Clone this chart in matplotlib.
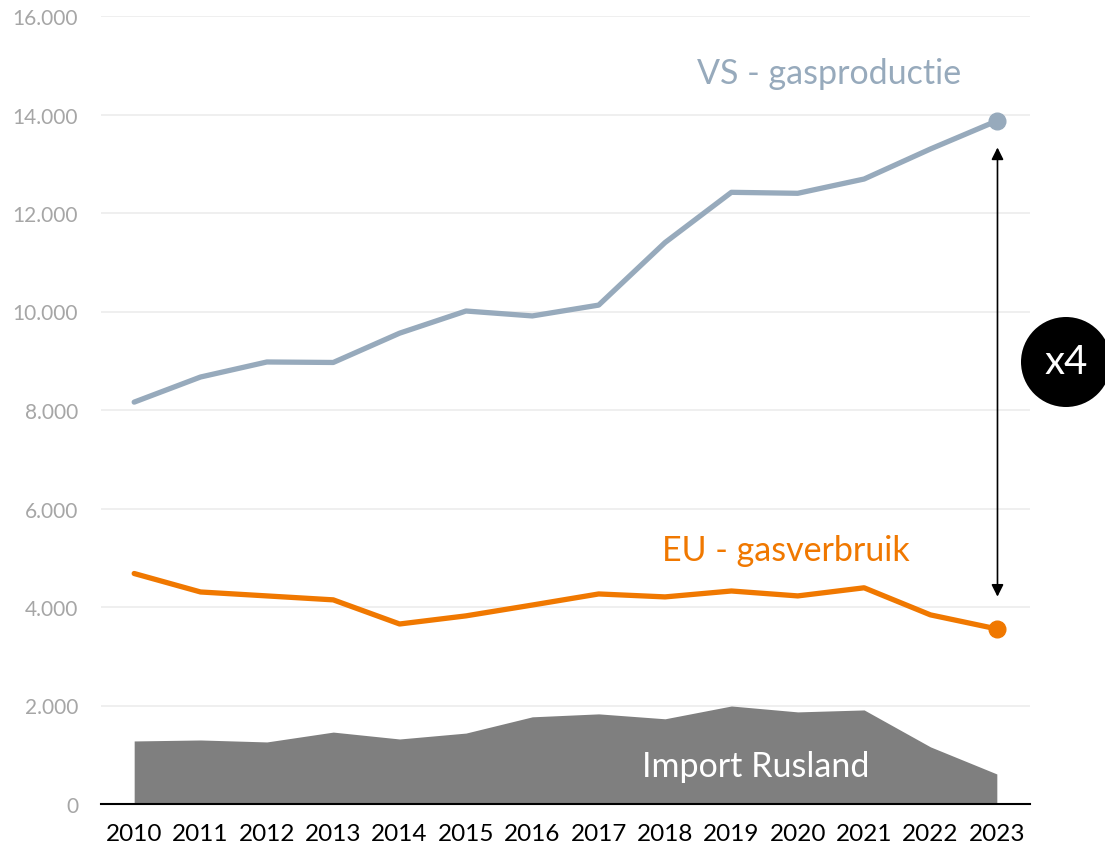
import matplotlib
matplotlib.use("Agg")
import matplotlib.pyplot as plt
from matplotlib.patches import Circle

plt.rcParams['font.family'] = ['Lato', 'DejaVu Sans']

years = [2010, 2011, 2012, 2013, 2014, 2015, 2016, 2017, 2018, 2019, 2020, 2021, 2022, 2023]
vs_production = [8160, 8670, 8975, 8965, 9560, 10010, 9910, 10130, 11400, 12420, 12400, 12690, 13300, 13870]
eu_consumption = [4680, 4305, 4225, 4145, 3655, 3820, 4040, 4265, 4205, 4325, 4225, 4390, 3840, 3555]
import_russia = [1280, 1300, 1260, 1460, 1320, 1440, 1770, 1830, 1730, 1990, 1870, 1910, 1160, 610]
yticks = [0, 2000, 4000, 6000, 8000, 10000, 12000, 14000, 16000]
ytick_labels = ['0', '2.000', '4.000', '6.000', '8.000', '10.000', '12.000', '14.000', '16.000']

VS_COLOR = '#97aabc'
EU_COLOR = '#f07800'
AREA_COLOR = '#7f7f7f'

fig = plt.figure(figsize=(11.05, 8.53), dpi=100)
ax = fig.add_axes([101/1105, 48/853, 929/1105, 788/853])

ax.fill_between(years, import_russia, 0, color=AREA_COLOR, linewidth=0, zorder=2)
ax.plot(years, vs_production, color=VS_COLOR, lw=3.8, solid_joinstyle='round',
        solid_capstyle='round', zorder=3)
ax.plot(years, eu_consumption, color=EU_COLOR, lw=3.8, solid_joinstyle='round',
        solid_capstyle='round', zorder=3)
ax.plot([years[-1]], [vs_production[-1]], 'o', color=VS_COLOR, ms=12, zorder=4)
ax.plot([years[-1]], [eu_consumption[-1]], 'o', color=EU_COLOR, ms=12, zorder=4)

ax.set_xlim(2009.5, 2023.5)
ax.set_ylim(0, 16000)
ax.set_yticks(yticks)
ax.set_yticklabels(ytick_labels)
ax.set_xticks(years)
ax.set_xticklabels([str(y) for y in years])
ax.grid(axis='y', color='#ececec', lw=1.2, zorder=0)
ax.set_axisbelow(True)
for s in ['top', 'right', 'left']:
    ax.spines[s].set_visible(False)
ax.spines['bottom'].set_color('black')
ax.spines['bottom'].set_linewidth(1.5)
ax.spines['bottom'].set_zorder(5)
ax.tick_params(axis='y', length=0, labelsize=15, labelcolor='#a6a6a6', pad=16.5)
ax.tick_params(axis='x', length=0, labelsize=17.5, labelcolor='black', pad=14)

ax.text(2020.47, 14850, 'VS - gasproductie', color=VS_COLOR, fontsize=24.5, ha='center', va='center')
ax.text(2019.82, 5160, 'EU - gasverbruik', color=EU_COLOR, fontsize=24.5, ha='center', va='center')
ax.text(2019.37, 770, 'Import Rusland', color='white', fontsize=24.5, ha='center', va='center', zorder=6)

ax.annotate('', xy=(2023.01, 4210), xytext=(2023.01, 13330),
            arrowprops=dict(arrowstyle='<|-|>', color='black', lw=1.2, mutation_scale=18,
                            shrinkA=0, shrinkB=0))

circ = Circle((1066/100, (853-363)/100), 0.45, transform=fig.dpi_scale_trans,
              facecolor='black', edgecolor='none', clip_on=False)
fig.patches.append(circ)
fig.text(1066/1105, 1-363/853, 'x4', color='white', fontsize=29, ha='center', va='center')

fig.savefig('out.png', dpi=100)
